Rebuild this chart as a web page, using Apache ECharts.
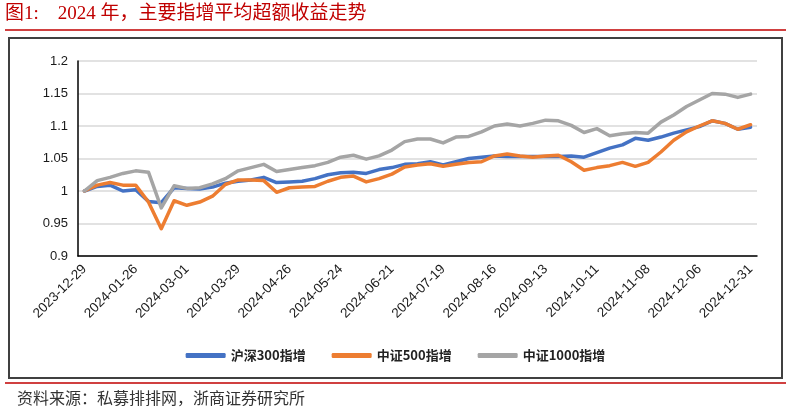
<!DOCTYPE html>
<html><head><meta charset="utf-8">
<script src="https://cdn.jsdelivr.net/npm/echarts@6/dist/echarts.min.js"></script>
<style>html,body{margin:0;padding:0;background:#fff}#c{width:791px;height:413px}</style>
</head><body><div id="c"></div>
<script>
var dates = ['2023-12-29','2024-01-05','2024-01-12','2024-01-19','2024-01-26','2024-02-02','2024-02-08','2024-02-23','2024-03-01','2024-03-08','2024-03-15','2024-03-22','2024-03-29','2024-04-03','2024-04-12','2024-04-19','2024-04-26','2024-04-30','2024-05-10','2024-05-17','2024-05-24','2024-05-31','2024-06-07','2024-06-14','2024-06-21','2024-06-28','2024-07-05','2024-07-12','2024-07-19','2024-07-26','2024-08-02','2024-08-09','2024-08-16','2024-08-23','2024-08-30','2024-09-06','2024-09-13','2024-09-20','2024-09-27','2024-09-30','2024-10-11','2024-10-18','2024-10-25','2024-11-01','2024-11-08','2024-11-15','2024-11-22','2024-11-29','2024-12-06','2024-12-13','2024-12-20','2024-12-27','2024-12-31'];
var hs300 = [1.000,1.007,1.009,1.000,1.002,0.984,0.982,1.005,1.004,1.003,1.006,1.012,1.015,1.017,1.021,1.013,1.014,1.015,1.019,1.025,1.028,1.029,1.027,1.033,1.036,1.041,1.042,1.045,1.040,1.045,1.050,1.052,1.054,1.053,1.053,1.053,1.053,1.053,1.054,1.052,1.059,1.066,1.071,1.081,1.078,1.083,1.089,1.094,1.099,1.108,1.104,1.095,1.098];
var zz500 = [1.000,1.009,1.013,1.009,1.009,0.983,0.942,0.985,0.978,0.983,0.992,1.010,1.017,1.017,1.016,0.998,1.005,1.006,1.007,1.015,1.021,1.023,1.014,1.019,1.026,1.037,1.040,1.042,1.038,1.041,1.044,1.045,1.054,1.057,1.054,1.052,1.054,1.055,1.045,1.032,1.036,1.039,1.044,1.038,1.044,1.060,1.078,1.091,1.100,1.108,1.104,1.095,1.102];
var zz1000 = [1.000,1.016,1.021,1.027,1.031,1.029,0.974,1.008,1.004,1.005,1.011,1.019,1.031,1.036,1.041,1.030,1.033,1.036,1.039,1.044,1.052,1.055,1.049,1.054,1.063,1.076,1.080,1.080,1.074,1.083,1.084,1.091,1.100,1.103,1.100,1.104,1.109,1.108,1.101,1.090,1.096,1.085,1.088,1.090,1.089,1.106,1.117,1.130,1.140,1.150,1.149,1.144,1.149];
var seriesNames = ['沪深300指增','中证500指增','中证1000指增'];
var colors = ['#4472C4','#ED7D31','#A5A5A5'];
var titleText = '图1:    2024 年，主要指增平均超额收益走势';
var sourceText = '资料来源：私募排排网，浙商证券研究所';

var chart = echarts.init(document.getElementById('c'), null, {renderer:'canvas'});
var mk = function(name, data, color){
  return {name:name, type:'line', data:data, symbol:'none', smooth:false,
    lineStyle:{width:3.5, color:color, cap:'round', join:'round'}, itemStyle:{color:color}};
};
chart.setOption({
  animation:false,
  color: colors,
  grid:{left:78, right:34, top:61, bottom:157},
  xAxis:{type:'category', data:dates, boundaryGap:true,
    axisLine:{lineStyle:{color:'#000', width:1.5}},
    axisTick:{show:false},
    axisLabel:{interval:3, rotate:45, fontSize:13.5, color:'#1a1a1a', fontFamily:'Liberation Sans, Arial, sans-serif', margin:11}},
  yAxis:{type:'value', min:0.9, max:1.2, interval:0.05,
    axisLine:{show:true, lineStyle:{color:'#000', width:1.5}},
    axisTick:{show:false},
    splitLine:{lineStyle:{color:'#d9d9d9', width:1.5}},
    axisLabel:{fontSize:13, color:'#1a1a1a', fontFamily:'Liberation Sans, Arial, sans-serif', margin:10,
      formatter:function(v){return String(+v.toFixed(2));}}},
  legend:{top:344, left:'center', itemWidth:40, itemHeight:5, itemGap:26, icon:'roundRect',
    textStyle:{fontSize:13, fontWeight:'bold', color:'#222', fontFamily:'Noto Sans CJK SC, sans-serif'},
    data:seriesNames},
  series:[mk(seriesNames[0], hs300, colors[0]), mk(seriesNames[1], zz500, colors[1]), mk(seriesNames[2], zz1000, colors[2])],
  graphic:[
    {type:'text', left:5, top:5, style:{text:titleText, fill:'#c00000', fontSize:19, fontFamily:'Liberation Serif, Noto Sans CJK SC, serif'}},
    {type:'line', shape:{x1:5, y1:30, x2:786, y2:30}, style:{stroke:'#c00000', lineWidth:1.5}},
    {type:'rect', shape:{x:9, y:38, width:773, height:340}, style:{fill:'none', stroke:'#404040', lineWidth:2}, z:-1},
    {type:'line', shape:{x1:5, y1:383, x2:786, y2:383}, style:{stroke:'#c00000', lineWidth:1.5}},
    {type:'text', left:17, top:390, style:{text:sourceText, fill:'#333', fontSize:16, fontFamily:'Noto Sans CJK SC, serif'}}
  ]
});
</script></body></html>
